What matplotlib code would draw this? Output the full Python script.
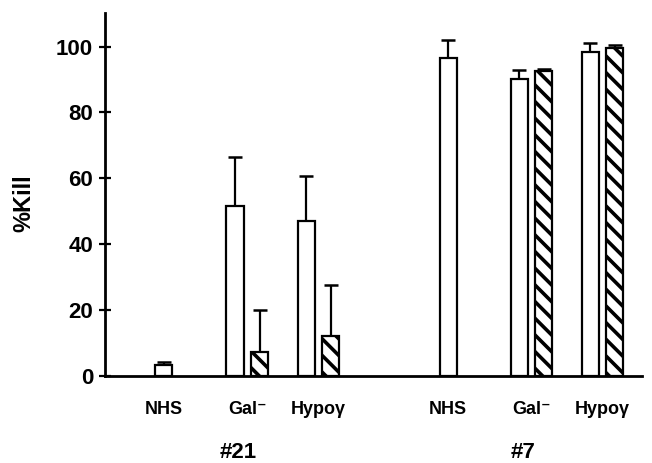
import matplotlib
matplotlib.use("Agg")
import matplotlib.pyplot as plt
import numpy as np

# values (% kill)
categories = ["NHS", "Gal\u207b", "Hypo\u03b3"]
groups = ["#21", "#7"]

open_21 = [3.3, 51.5, 47.0]
open_21_err = [1.0, 15.0, 13.6]
hatch_21 = [np.nan, 7.2, 12.0]
hatch_21_err = [0.0, 12.7, 15.7]

open_7 = [96.6, 90.2, 98.2]
open_7_err = [5.4, 2.6, 2.8]
hatch_7 = [np.nan, 92.5, 99.6]
hatch_7_err = [0.0, 0.8, 1.0]

FONT = ["Liberation Sans", "DejaVu Sans"]
plt.rcParams["font.family"] = FONT
plt.rcParams["font.weight"] = "bold"
plt.rcParams["hatch.linewidth"] = 2.6

WIDTH = 0.24
OFFSET = 0.345

fig = plt.figure(figsize=(6.52, 4.63), dpi=100)
ax = fig.add_axes([0.161, 0.188, 0.824, 0.784])

group_pos = [np.arange(3), np.arange(3) + 4]
open_vals = [open_21, open_7]
open_errs = [open_21_err, open_7_err]
hatch_vals = [hatch_21, hatch_7]
hatch_errs = [hatch_21_err, hatch_7_err]

err_kw = dict(fmt="none", ecolor="black", elinewidth=1.6, capsize=5, capthick=1.8, zorder=1)

for pos, ov, oe, hv, he in zip(group_pos, open_vals, open_errs, hatch_vals, hatch_errs):
    ax.bar(pos, ov, WIDTH, color="white", edgecolor="black", linewidth=1.6, zorder=2)
    ax.errorbar(pos, ov, yerr=[np.zeros(3), oe], **err_kw)
    hv = np.array(hv)
    m = ~np.isnan(hv)
    ax.bar(pos[m] + OFFSET, hv[m], WIDTH, color="white", edgecolor="black",
           hatch="\\\\", linewidth=1.6, zorder=2)
    ax.errorbar(pos[m] + OFFSET, hv[m], yerr=[np.zeros(m.sum()), np.array(he)[m]], **err_kw)

ax.set_ylim(0, 110.2)
ax.set_xlim(-0.83, 6.73)
ax.set_yticks(np.arange(0, 101, 20))
ax.tick_params(axis="y", direction="inout", length=9, width=1.6, pad=4, labelsize=16)
for lbl in ax.get_yticklabels():
    lbl.set_fontweight("bold")

tick_x = []
for pos in group_pos:
    tick_x += [pos[0], pos[1] + OFFSET / 2, pos[2] + OFFSET / 2]
ax.set_xticks(tick_x)
ax.set_xticklabels(categories * 2, fontsize=13, fontweight="bold")
ax.tick_params(axis="x", length=0, pad=18)

for g, pos in zip(groups, group_pos):
    ax.text(pos[1] + 0.05, -0.212, g, transform=ax.get_xaxis_transform(),
            ha="center", va="center", fontsize=16, fontweight="bold")

fig.text(24 / 652, 1 - 203 / 463, "%Kill", rotation=90, ha="center", va="center",
         fontsize=17, fontweight="bold")

for side in ["top", "right"]:
    ax.spines[side].set_visible(False)
for side in ["left", "bottom"]:
    ax.spines[side].set_linewidth(2)

plt.savefig("out.png", dpi=100)
